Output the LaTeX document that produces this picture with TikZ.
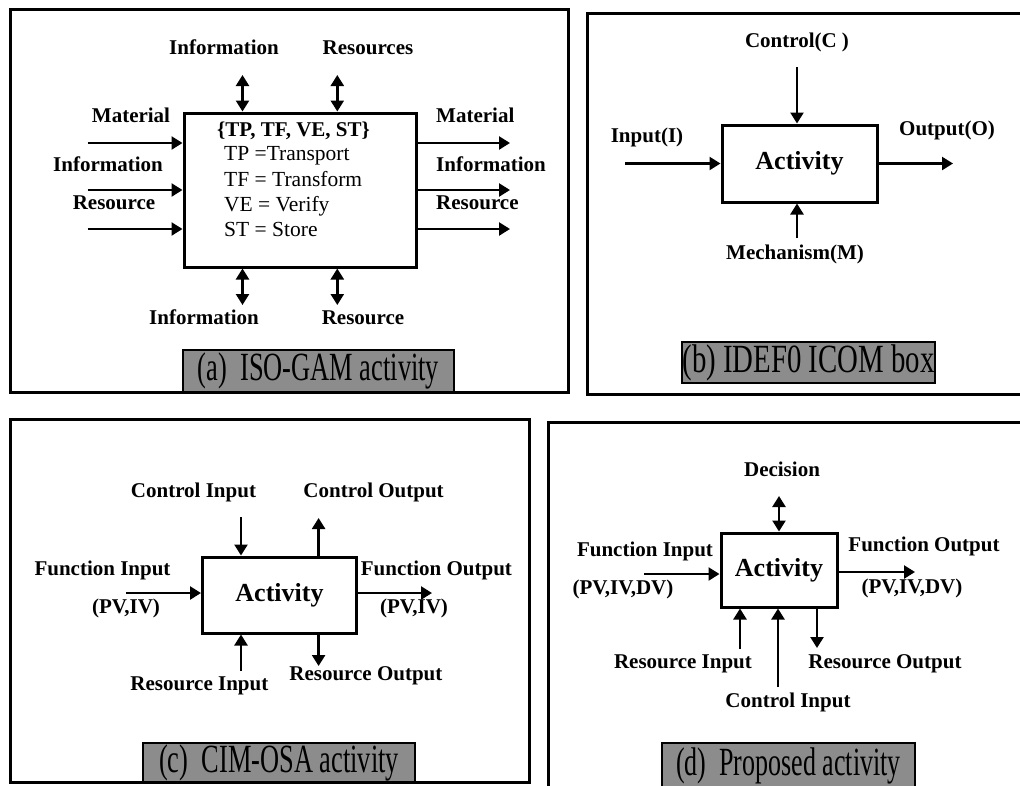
\documentclass[tikz,border=0pt]{standalone}
\usepackage{fontspec}
\usepackage{graphicx}
\setmainfont{Liberation Serif}
\usetikzlibrary{arrows.meta}
\definecolor{capgray}{RGB}{140,140,140}
\begin{document}
\begin{tikzpicture}[x=1pt,y=-1pt,
  frame/.style={line width=3pt, line join=miter},
  actbox/.style={draw, line width=3pt, inner sep=0pt, font=\fontsize{26}{30}\selectfont\bfseries},
  lbl/.style={font=\fontsize{21}{24}\selectfont\bfseries, inner sep=0pt, text height=0.95em, text depth=0em},
  intxt/.style={font=\fontsize{21.5}{24}\selectfont, inner sep=0pt, text height=0.95em, text depth=0em, anchor=west},
  arr/.style={line width=2.4pt, -{Triangle[length=11pt,width=13pt]}},
  darr/.style={line width=2.4pt, {Triangle[length=11pt,width=13pt]}-{Triangle[length=11pt,width=13pt]}},
  capbox/.style={draw, line width=2.5pt, fill=capgray, inner sep=0pt, font=\fontsize{40}{44}\selectfont}
]
\useasboundingbox (0,0) rectangle (1020,785);

% ================= (a) ISO-GAM =================
\draw[frame] (10,9) rectangle (568,392);
\node[actbox, minimum width=232pt, minimum height=154pt] (abox) at (300,190) {};
\node[intxt, font=\fontsize{21}{24}\selectfont\bfseries] (aT0) at (217,132) {\{TP, TF, VE, ST\}};
\node[intxt] (aT1) at (224,156) {TP =Transport};
\node[intxt] (aT2) at (224,182) {TF = Transform};
\node[intxt] (aT3) at (224,207) {VE = Verify};
\node[intxt] (aT4) at (224,232) {ST = Store};

\node[lbl] (aLM) at (131,118) {Material};
\node[lbl] (aLI) at (108,167) {Information};
\node[lbl] (aLR) at (114,205) {Resource};
\coordinate (aMi) at (87.5,143);
\coordinate (aIi) at (87.5,190);
\coordinate (aRi) at (87.5,229);
\draw[arr] (aMi) -- (aMi -| abox.west);
\draw[arr] (aIi) -- (aIi -| abox.west);
\draw[arr] (aRi) -- (aRi -| abox.west);

\node[lbl, anchor=west] (aRM) at (436,118) {Material};
\node[lbl, anchor=west] (aRI) at (436,167) {Information};
\node[lbl, anchor=west] (aRR) at (436,205) {Resource};
\coordinate (aMo) at (510,143);
\coordinate (aIo) at (510,190);
\coordinate (aRo) at (510,229);
\draw[arr] (aMo -| abox.east) -- (aMo);
\draw[arr] (aIo -| abox.east) -- (aIo);
\draw[arr] (aRo -| abox.east) -- (aRo);

\node[lbl] (aTI) at (224,50) {Information};
\node[lbl] (aTR) at (368,50) {Resources};
\coordinate (aTIe) at (242.5,75);
\coordinate (aTRe) at (337.3,75);
\draw[darr] (aTIe) -- (aTIe |- abox.north);
\draw[darr] (aTRe) -- (aTRe |- abox.north);

\node[lbl] (aBI) at (204,320) {Information};
\node[lbl] (aBR) at (363,320) {Resource};
\coordinate (aBIe) at (242.5,305);
\coordinate (aBRe) at (337.3,305);
\draw[darr] (aBIe |- abox.south) -- (aBIe);
\draw[darr] (aBRe |- abox.south) -- (aBRe);

\node[capbox, minimum width=271pt, minimum height=42pt] (acap) at (318.5,371)
  {\scalebox{0.66}[1]{(a)\ \ ISO-GAM activity}};

% ================= (b) IDEF0 =================
\draw[frame] (1030,13) -- (587,13) -- (587,394) -- (1030,394);
\node[actbox, minimum width=155pt, minimum height=77pt] (bbox) at (799.5,163.5) {Activity};
\node[lbl] (bCl) at (797,43) {Control(C )};
\coordinate (bCs) at (797,67);
\draw[arr] (bCs) -- (bCs |- bbox.north);
\node[lbl] (bIl) at (647,138) {Input(I)};
\coordinate (bIs) at (625,163.5);
\draw[arr] (bIs) -- (bIs -| bbox.west);
\node[lbl] (bOl) at (947,131) {Output(O)};
\coordinate (bOe) at (953,163.5);
\draw[arr] (bOe -| bbox.east) -- (bOe);
\node[lbl] (bMl) at (795,255) {Mechanism(M)};
\coordinate (bMs) at (797,238);
\draw[arr] (bMs) -- (bMs |- bbox.south);
\node[capbox, minimum width=253pt, minimum height=41pt] (bcap) at (808.5,362.5)
  {\scalebox{0.72}[1]{(b)\ IDEF0 ICOM box}};

% ================= (c) CIM-OSA =================
\draw[frame] (10,419) rectangle (529,782);
\node[actbox, minimum width=154pt, minimum height=76pt] (cbox) at (279.5,595) {Activity};
\node[lbl] (cCIl) at (193.5,493) {Control Input};
\coordinate (cCIs) at (241,517);
\draw[arr] (cCIs) -- (cCIs |- cbox.north);
\node[lbl] (cCOl) at (373.6,493) {Control Output};
\coordinate (cCOe) at (318.6,518);
\draw[arr] (cCOe |- cbox.north) -- (cCOe);
\node[lbl] (cFIl) at (102.5,571) {Function Input};
\node[lbl] (cFIv) at (126,609) {(PV,IV)};
\coordinate (cFIs) at (126,593);
\draw[arr] (cFIs) -- (cFIs -| cbox.west);
\node[lbl] (cFOl) at (436.4,571) {Function Output};
\node[lbl] (cFOv) at (414,609) {(PV,IV)};
\coordinate (cFOe) at (432,593);
\draw[arr] (cFOe -| cbox.east) -- (cFOe);
\node[lbl] (cRIl) at (199.4,686) {Resource Input};
\coordinate (cRIs) at (241,671);
\draw[arr] (cRIs) -- (cRIs |- cbox.south);
\node[lbl] (cROl) at (365.9,676) {Resource Output};
\coordinate (cROe) at (318.6,666);
\draw[arr] (cROe |- cbox.south) -- (cROe);
\node[capbox, minimum width=272pt, minimum height=39pt] (ccap) at (279,762.5)
  {\scalebox{0.66}[1]{(c)\ \ CIM-OSA activity}};

% ================= (d) Proposed =================
\draw[frame] (1030,422) -- (548,422) -- (548,790);
\node[actbox, minimum width=116pt, minimum height=74pt] (dbox) at (779,570) {Activity};
\node[lbl] (dDl) at (782,472) {Decision};
\coordinate (dDe) at (779,496);
\draw[darr] (dDe) -- (dDe |- dbox.north);
\node[lbl] (dFIl) at (645,552) {Function Input};
\node[lbl] (dFIv) at (623,590) {(PV,IV,DV)};
\coordinate (dFIs) at (644,574);
\draw[arr] (dFIs) -- (dFIs -| dbox.west);
\node[lbl] (dFOl) at (924,547) {Function Output};
\node[lbl] (dFOv) at (912,589) {(PV,IV,DV)};
\coordinate (dFOe) at (915,572);
\draw[arr] (dFOe -| dbox.east) -- (dFOe);
\node[lbl] (dRIl) at (683,664) {Resource Input};
\coordinate (dRIs) at (740,649);
\draw[arr] (dRIs) -- (dRIs |- dbox.south);
\node[lbl] (dCIl) at (788,703) {Control Input};
\coordinate (dCIs) at (778,687);
\draw[arr] (dCIs) -- (dCIs |- dbox.south);
\node[lbl] (dROl) at (885,664) {Resource Output};
\coordinate (dROe) at (817,648);
\draw[arr] (dROe |- dbox.south) -- (dROe);
\node[capbox, minimum width=253pt, minimum height=46pt] (dcap) at (788.5,766)
  {\scalebox{0.65}[1]{(d)\ \ Proposed activity}};
\end{tikzpicture}
\end{document}
